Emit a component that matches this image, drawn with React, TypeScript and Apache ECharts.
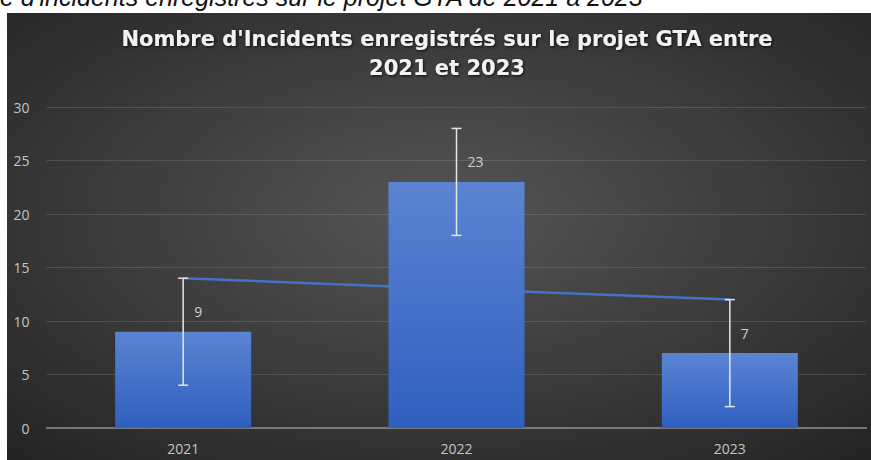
import React, { useEffect, useRef } from "react";
import * as echarts from "echarts";

const categories = ["2021", "2022", "2023"];
const incidents = [9, 23, 7];
const errorAmounts = [5, 5, 5];
const trendValues = [14, 13, 12];
const yTicks = { min: 0, max: 30, interval: 5 };
const titleText = "Nombre d'Incidents enregistrés sur le projet GTA entre\n2021 et 2023";
const captionText = "e d'incidents enregistrés sur le projet GTA de 2021 à 2023";

export default function App() {
  const ref = useRef<HTMLDivElement>(null);
  useEffect(() => {
    if (!ref.current) return;
    const chart = echarts.init(ref.current, null, { renderer: "svg" });
    const errData = categories.map((c, i) => [i, incidents[i] - errorAmounts[i], incidents[i] + errorAmounts[i]]);
    chart.setOption({
      animation: false,
      backgroundColor: "#ffffff",
      graphic: [
        {
          type: "rect",
          z: -100,
          silent: true,
          shape: { x: 7, y: 13, width: 864, height: 447 },
          style: {
            fill: new echarts.graphic.RadialGradient(0.5, 0.45, 0.75, [
              { offset: 0, color: "#555555" },
              { offset: 1, color: "#232323" },
            ]),
          },
        },
        {
          type: "text",
          x: 0,
          y: -16,
          silent: true,
          style: {
            text: captionText,
            fill: "#111111",
            font: "italic 25px 'Liberation Sans', Arial, sans-serif",
          },
        },
      ],
      title: {
        text: titleText,
        left: 442,
        top: 19,
        textAlign: "center",
        textStyle: {
          color: "#f2f2f2",
          fontFamily: "'DejaVu Sans', sans-serif",
          fontWeight: "bold",
          fontSize: 21,
          lineHeight: 29,
          textShadowColor: "rgba(0,0,0,0.8)",
          textShadowBlur: 3,
          textShadowOffsetX: 1,
          textShadowOffsetY: 1,
        },
      },
      grid: { left: 46.5, right: 4.5, top: 107, bottom: 32, containLabel: false },
      xAxis: {
        type: "category",
        data: categories,
        axisLine: { lineStyle: { color: "#8c8c8c", width: 1.5 } },
        axisTick: { show: false },
        axisLabel: {
          color: "#c4c4c4",
          fontFamily: "'Open Sans', sans-serif",
          fontSize: 14,
          margin: 13,
        },
      },
      yAxis: {
        type: "value",
        min: yTicks.min,
        max: yTicks.max,
        interval: yTicks.interval,
        axisLine: { show: false },
        axisTick: { show: false },
        splitLine: { lineStyle: { color: "rgba(255,255,255,0.13)", width: 1 } },
        axisLabel: {
          color: "#c4c4c4",
          fontFamily: "'Open Sans', sans-serif",
          fontSize: 14,
          margin: 17,
        },
      },
      series: [
        {
          type: "line",
          data: trendValues,
          z: 1,
          symbol: "none",
          lineStyle: { color: "#4472c4", width: 2.5 },
        },
        {
          type: "bar",
          data: incidents,
          z: 2,
          barWidth: 136,
          itemStyle: {
            color: new echarts.graphic.LinearGradient(0, 0, 0, 1, [
              { offset: 0, color: "#5b84d2" },
              { offset: 1, color: "#2f5fbf" },
            ]),
          },
          label: {
            show: true,
            position: "top",
            distance: 5,
            align: "left",
            offset: [11, -8],
            color: "#cfcfcf",
            fontFamily: "'Open Sans', sans-serif",
            fontSize: 14,
          },
        },
        {
          type: "custom",
          z: 3,
          data: errData,
          renderItem: (params: any, api: any) => {
            const x = api.value(0);
            const lo = api.value(1);
            const hi = api.value(2);
            const top = api.coord([x, hi]);
            const bot = api.coord([x, lo]);
            const hw = 5;
            const style = { stroke: "#e6e6e6", lineWidth: 1.5 };
            return {
              type: "group",
              children: [
                { type: "line", shape: { x1: top[0], y1: top[1], x2: bot[0], y2: bot[1] }, style },
                { type: "line", shape: { x1: top[0] - hw, y1: top[1], x2: top[0] + hw, y2: top[1] }, style },
                { type: "line", shape: { x1: bot[0] - hw, y1: bot[1], x2: bot[0] + hw, y2: bot[1] }, style },
              ],
            };
          },
        },
      ],
    });
    return () => chart.dispose();
  }, []);
  return (
    <div
      ref={ref}
      style={{ position: "absolute", left: 0, top: 0, width: 871, height: 460 }}
    />
  );
}
